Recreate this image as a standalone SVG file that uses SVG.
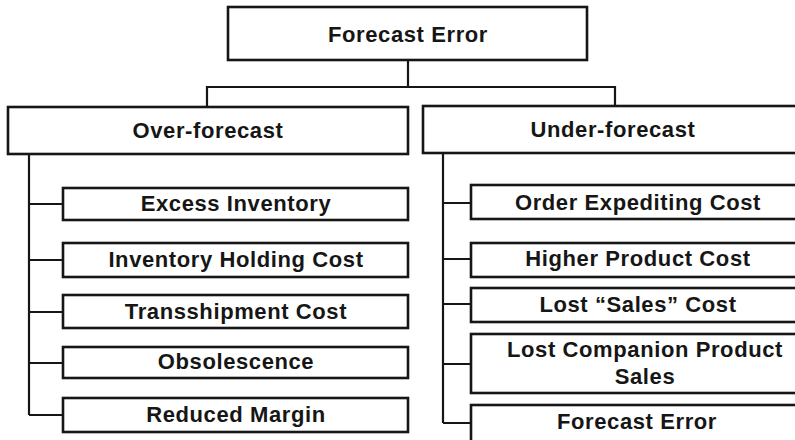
<svg xmlns="http://www.w3.org/2000/svg" width="795" height="440" viewBox="0 0 795 440">
  <style>
    .box { fill: #ffffff; stroke: #161616; stroke-width: 2.6; }
    .wire { fill: none; stroke: #161616; stroke-width: 2.2; }
    .lbl { font-family: "Liberation Sans", Arial, Helvetica, sans-serif; font-weight: bold; font-size: 22px; letter-spacing: 0.6px; fill: #161616; text-anchor: middle; }
  </style>
  <rect width="795" height="440" fill="#ffffff"/>

  <!-- connectors -->
  <g id="connectors" class="wire">
    <path d="M408 60 V87 M207 107 V87 H615 V106"/>
    <path d="M29 154 V415 M29 204 H63 M29 260 H63 M29 312 H63 M29 363 H63 M29 415 H63"/>
    <path d="M443 153 V423 M443 203 H471 M443 259 H471 M443 304 H471 M443 364 H471 M443 423 H471"/>
  </g>

  <!-- root -->
  <g id="forecast-error">
    <rect class="box" x="228" y="7" width="359" height="53"/>
    <text class="lbl" x="408" y="42">Forecast Error</text>
  </g>

  <!-- over-forecast branch -->
  <g id="over-forecast">
    <rect class="box" x="8" y="107" width="400" height="47"/>
    <text class="lbl" x="208" y="138">Over-forecast</text>
  </g>
  <g id="excess-inventory">
    <rect class="box" x="63" y="188" width="345" height="32"/>
    <text class="lbl" x="236" y="211">Excess Inventory</text>
  </g>
  <g id="inventory-holding-cost">
    <rect class="box" x="63" y="243" width="345" height="34"/>
    <text class="lbl" x="236" y="267">Inventory Holding Cost</text>
  </g>
  <g id="transshipment-cost">
    <rect class="box" x="63" y="295" width="345" height="33"/>
    <text class="lbl" x="236" y="319">Transshipment Cost</text>
  </g>
  <g id="obsolescence">
    <rect class="box" x="63" y="347" width="345" height="31"/>
    <text class="lbl" x="236" y="369">Obsolescence</text>
  </g>
  <g id="reduced-margin">
    <rect class="box" x="63" y="398" width="345" height="34"/>
    <text class="lbl" x="236" y="422">Reduced Margin</text>
  </g>

  <!-- under-forecast branch -->
  <g id="under-forecast">
    <rect class="box" x="423" y="106" width="385" height="47"/>
    <text class="lbl" x="613" y="137">Under-forecast</text>
  </g>
  <g id="order-expediting-cost">
    <rect class="box" x="471" y="185" width="334" height="34"/>
    <text class="lbl" x="638" y="210">Order Expediting Cost</text>
  </g>
  <g id="higher-product-cost">
    <rect class="box" x="471" y="243" width="334" height="34"/>
    <text class="lbl" x="638" y="266">Higher Product Cost</text>
  </g>
  <g id="lost-sales-cost">
    <rect class="box" x="471" y="288" width="334" height="34"/>
    <text class="lbl" x="638" y="312">Lost “Sales” Cost</text>
  </g>
  <g id="lost-companion-product-sales">
    <rect class="box" x="471" y="334" width="334" height="59"/>
    <text class="lbl" x="645" y="357">Lost Companion Product</text>
    <text class="lbl" x="645" y="384">Sales</text>
  </g>
  <g id="forecast-error-under">
    <rect class="box" x="471" y="405" width="334" height="40"/>
    <text class="lbl" x="637" y="429">Forecast Error</text>
  </g>
</svg>
